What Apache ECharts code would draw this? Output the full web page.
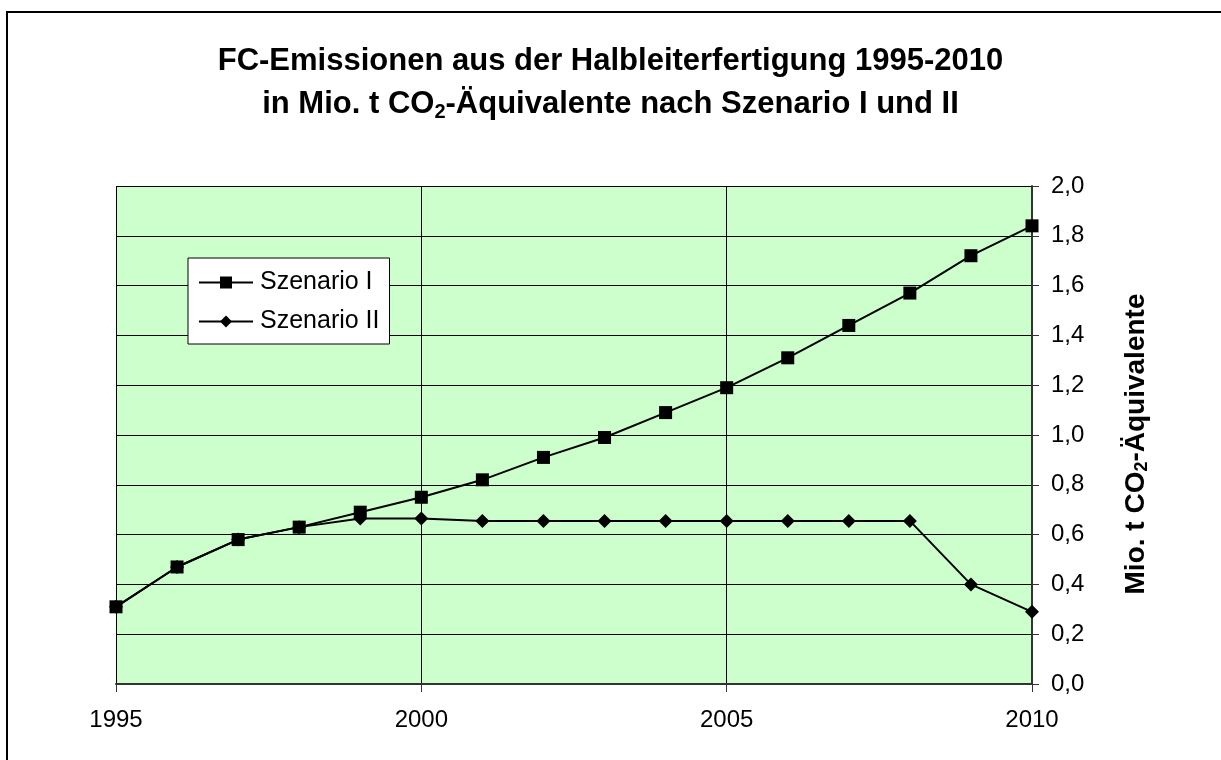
<!DOCTYPE html>
<html>
<head>
<meta charset="utf-8">
<script src="https://cdn.jsdelivr.net/npm/echarts@6/dist/echarts.min.js"></script>
<style>
  html, body { margin: 0; padding: 0; background: #ffffff; }
  #chart { width: 1221px; height: 760px; }
</style>
</head>
<body>
<div id="chart"></div>
<script>
// Years on the horizontal axis
const years = [1995, 1996, 1997, 1998, 1999, 2000, 2001, 2002, 2003, 2004, 2005, 2006, 2007, 2008, 2009, 2010];
// Emissions in Mio. t CO2-equivalents
const szenarioI  = [0.31, 0.47, 0.58, 0.63, 0.69, 0.75, 0.82, 0.91, 0.99, 1.09, 1.19, 1.31, 1.44, 1.57, 1.72, 1.84];
const szenarioII = [0.31, 0.47, 0.58, 0.63, 0.665, 0.665, 0.655, 0.655, 0.655, 0.655, 0.655, 0.655, 0.655, 0.655, 0.40, 0.29];
const seriesNames = ['Szenario I', 'Szenario II'];

const FONT = 'Liberation Sans, Arial, sans-serif';

const pairs = (ys) => years.map((y, i) => [y, ys[i]]);

const chart = echarts.init(document.getElementById('chart'), null, { renderer: 'canvas' });

chart.setOption({
  backgroundColor: '#ffffff',
  animation: false,
  textStyle: { fontFamily: FONT, color: '#000' },
  title: {
    left: 'center',
    top: 35,
    text: '{t|FC-Emissionen aus der Halbleiterfertigung 1995-2010}\n' +
          '{t|in Mio. t CO}{s|2}{t|-Äquivalente nach Szenario I und II}',
    textStyle: {
      rich: {
        t: { fontFamily: FONT, fontSize: 31, fontWeight: 'bold', color: '#000', lineHeight: 43 },
        s: { fontFamily: FONT, fontSize: 20, fontWeight: 'bold', color: '#000', lineHeight: 43, padding: [16, 0, 0, 0] }
      }
    }
  },
  graphic: [{
    type: 'rect',
    shape: { x: 7, y: 12, width: 1230, height: 760 },
    style: { fill: 'none', stroke: '#000', lineWidth: 2 },
    silent: true,
    z: 100
  }],
  legend: {
    data: seriesNames,
    orient: 'vertical',
    left: 188,
    top: 258,
    padding: [12, 10, 10, 10],
    itemGap: 14,
    itemWidth: 54,
    itemHeight: 15,
    backgroundColor: '#ffffff',
    borderColor: '#000',
    borderWidth: 1,
    textStyle: { fontFamily: FONT, fontSize: 25, color: '#000', padding: [0, 0, 0, 2] }
  },
  grid: {
    left: 116, right: 189, top: 186, bottom: 76,
    show: true,
    backgroundColor: '#ccffcc',
    borderWidth: 0
  },
  xAxis: {
    type: 'value',
    min: 1995, max: 2010, interval: 5,
    axisLine: { show: true, onZero: false, lineStyle: { color: '#333', width: 2 } },
    axisTick: { show: true, length: 8, lineStyle: { color: '#333', width: 1 } },
    axisLabel: { fontFamily: FONT, fontSize: 24, color: '#000', margin: 24, formatter: (v) => String(v) },
    splitLine: { show: true, lineStyle: { color: '#000', width: 1 } }
  },
  yAxis: {
    type: 'value',
    position: 'right',
    min: 0, max: 2, interval: 0.2,
    axisLine: { show: true, lineStyle: { color: '#333', width: 2 } },
    axisTick: { show: true, length: 7, lineStyle: { color: '#333', width: 1 } },
    axisLabel: { fontFamily: FONT, fontSize: 24, color: '#000', margin: 19, formatter: (v) => v.toFixed(1).replace('.', ',') },
    splitLine: { show: true, lineStyle: { color: '#000', width: 1 } },
    name: '{t|Mio. t CO}{s|2}{t|-Äquivalente}',
    nameLocation: 'middle',
    nameRotate: 90,
    nameGap: 88,
    nameTextStyle: {
      padding: [0, 18, 0, 0],
      rich: {
        t: { fontFamily: FONT, fontSize: 28, fontWeight: 'bold', color: '#000', lineHeight: 32 },
        s: { fontFamily: FONT, fontSize: 18, fontWeight: 'bold', color: '#000', lineHeight: 32, padding: [12, 0, 0, 0] }
      }
    }
  },
  series: [
    {
      name: seriesNames[1],
      type: 'line',
      data: pairs(szenarioII),
      symbol: 'diamond',
      symbolSize: 14,
      lineStyle: { color: '#000', width: 2 },
      itemStyle: { color: '#000' },
      z: 3
    },
    {
      name: seriesNames[0],
      type: 'line',
      data: pairs(szenarioI),
      symbol: 'rect',
      symbolSize: 13,
      lineStyle: { color: '#000', width: 2 },
      itemStyle: { color: '#000' },
      z: 4
    }
  ]
});
</script>
</body>
</html>
